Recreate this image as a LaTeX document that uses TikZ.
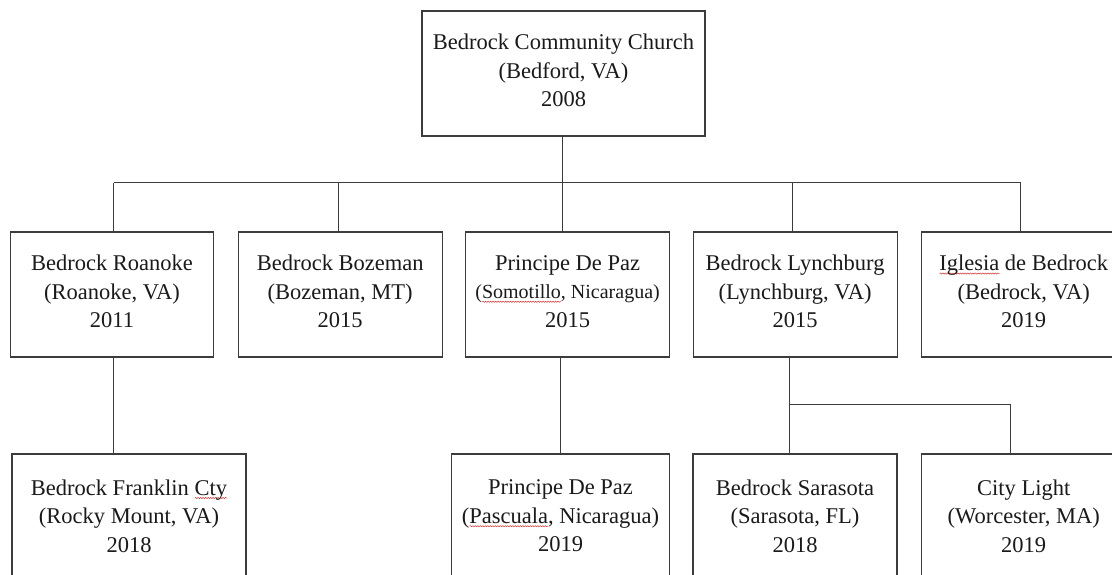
\documentclass[tikz,border=0pt]{standalone}
\usepackage{fontspec}
\setmainfont{Liberation Serif}
\usetikzlibrary{calc,decorations.pathmorphing}
\definecolor{linegray}{HTML}{3C3C3C}
\definecolor{txt}{HTML}{1A1A1A}
\definecolor{squig}{HTML}{D23A3A}
\newdimen\wavew
\newcommand\redwave[1]{\setbox0\hbox{#1}\global\wavew=\wd0\rlap{\smash{\lower3.6pt\hbox{\tikz[x=1pt,y=1pt]\draw[squig,line width=0.5pt,decorate,decoration={snake,amplitude=0.6pt,segment length=2.5pt}] (0,0) -- (\wavew,0);}}}#1}
\tikzset{
  orgbox/.style={draw=linegray, line width=1.2pt, fill=white, inner sep=0pt,
    align=center, text=txt, font=\fontsize{22.5}{28.5}\selectfont,
    minimum height=125pt, text depth=6pt},
  link/.style={draw=linegray, line width=1.2pt}
}
\begin{document}
\begin{tikzpicture}[x=1pt,y=-1pt]
\useasboundingbox (0,0) rectangle (1112,575);
\fill[white] (0,0) rectangle (1112,575);
\clip (0,0) rectangle (1112,575);
% top
\node[orgbox, minimum width=283pt] (top) at (563.5,73.5)
  {Bedrock Community Church\\(Bedford, VA)\\2008};
% row 2
\node[orgbox, minimum width=203pt] (roanoke) at (112,294.5)
  {Bedrock Roanoke\\(Roanoke, VA)\\2011};
\node[orgbox, minimum width=204pt] (bozeman) at (340.2,294.5)
  {Bedrock Bozeman\\(Bozeman, MT)\\2015};
\node[orgbox, minimum width=204pt] (somotillo) at (567.6,294.5)
  {Principe De Paz\\{\fontsize{20}{28.5}\selectfont(\redwave{Somotillo}, Nicaragua)}\\2015};
\node[orgbox, minimum width=204pt] (lynchburg) at (795.1,294.5)
  {Bedrock Lynchburg\\(Lynchburg, VA)\\2015};
\node[orgbox, minimum width=205pt] (iglesia) at (1023.7,294.5)
  {\redwave{Iglesia} de Bedrock\\(Bedrock, VA)\\2019};
% row 3
\node[orgbox, minimum width=234pt, minimum height=130pt] (franklin) at (129,519)
  {Bedrock Franklin \redwave{Cty}\\(Rocky Mount, VA)\\2018};
\node[orgbox, minimum width=218pt, minimum height=130pt] (pascuala) at (560.5,519)
  {Principe De Paz\\(\redwave{Pascuala}, Nicaragua)\\2019};
\node[orgbox, minimum width=204pt, minimum height=130pt] (sarasota) at (795,519)
  {Bedrock Sarasota\\(Sarasota, FL)\\2018};
\node[orgbox, minimum width=205pt, minimum height=130pt] (citylight) at (1023.7,519)
  {City Light\\(Worcester, MA)\\2019};
% bus coordinates
\coordinate (busL) at (113.5,182.7);
\coordinate (busR) at (1020.7,182.7);
\coordinate (busC) at (562.5,182.7);
\coordinate (busB) at (338.3,182.7);
\coordinate (busY) at (792.3,182.7);
\coordinate (subL) at (789.5,404.3);
\coordinate (subR) at (1010.5,404.3);
% connectors
\draw[link] (top.south -| busC) -- (busC);
\draw[link] (busL) -- (busR);
\draw[link] (busL) -- (busL |- roanoke.north);
\draw[link] (busB) -- (busB |- bozeman.north);
\draw[link] (busC) -- (busC |- somotillo.north);
\draw[link] (busY) -- (busY |- lynchburg.north);
\draw[link] (busR) -- (busR |- iglesia.north);
\draw[link] (roanoke.south -| busL) -- (busL |- franklin.north);
\draw[link] (somotillo.south -| pascuala.north) -- (pascuala.north);
\draw[link] (lynchburg.south -| subL) -- (subL);
\draw[link] (subL) -- (subR);
\draw[link] (subL) -- (subL |- sarasota.north);
\draw[link] (subR) -- (subR |- citylight.north);
\end{tikzpicture}
\end{document}
